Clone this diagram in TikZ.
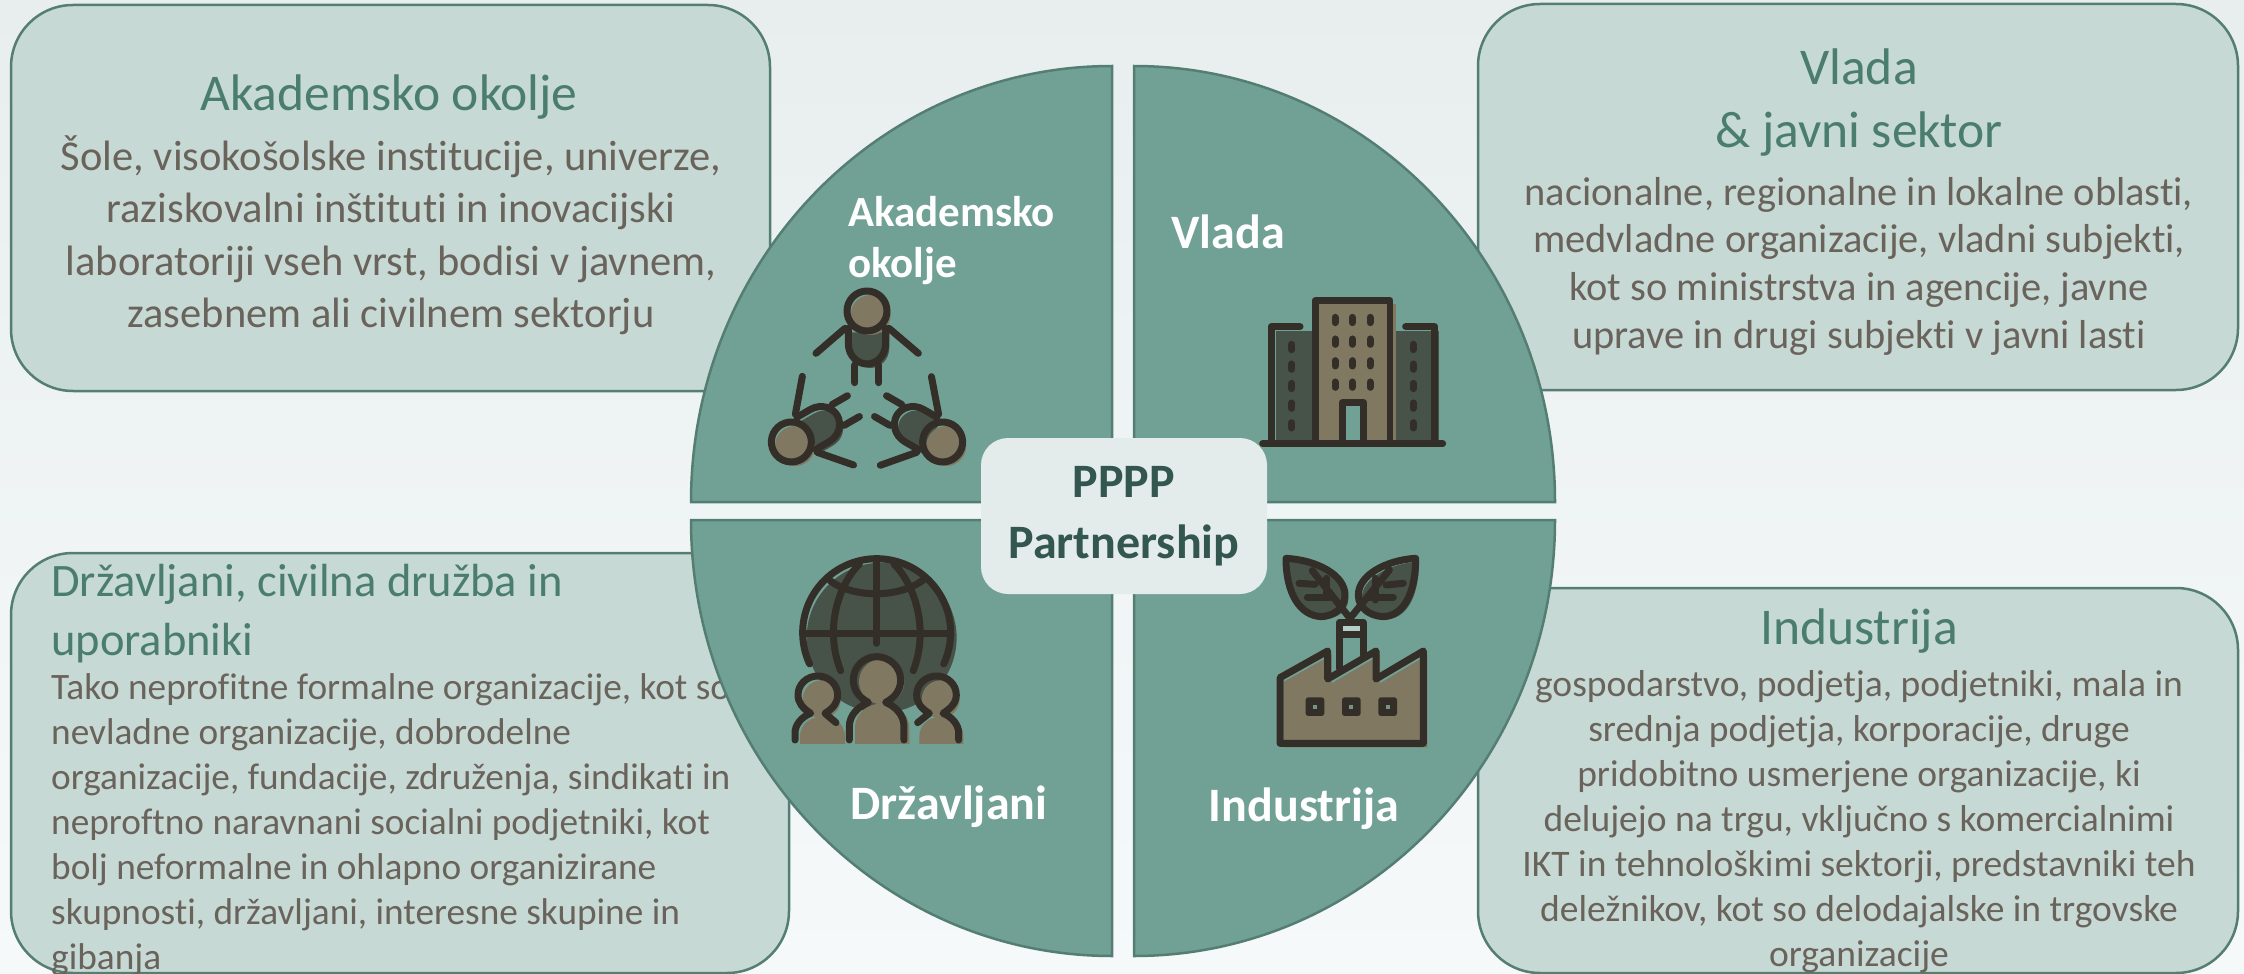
\documentclass[tikz,border=0pt]{standalone}
\usepackage{fontspec}
\setmainfont{Carlito}[Ligatures=CommonOff]
\definecolor{bgtop}{HTML}{E8EEEE}
\definecolor{bgbot}{HTML}{F6F9F9}
\definecolor{boxfill}{HTML}{C6D9D4}
\definecolor{edgec}{HTML}{557E72}
\definecolor{quad}{HTML}{71A094}
\definecolor{core}{HTML}{E3ECEB}
\definecolor{coretext}{HTML}{33564F}
\definecolor{titlec}{HTML}{4A7D6E}
\definecolor{bodyc}{HTML}{6A635C}
\definecolor{ink}{HTML}{342E29}
\definecolor{tan}{HTML}{807860}
\definecolor{darkf}{HTML}{475249}
\tikzset{
  panel/.style={draw=edgec,line width=2.5pt,fill=boxfill,rounded corners=62pt,inner sep=0pt},
  quadrant/.style={draw=edgec,line width=2.5pt,fill=quad,line join=miter},
  ttl/.style={text=titlec,font=\fontsize{51.5}{63}\selectfont,align=center,inner sep=0pt},
  txt/.style={text=bodyc,align=center,inner sep=0pt},
  lab/.style={text=white,font=\fontsize{43}{51.5}\selectfont\bfseries,align=left,inner sep=0pt},
  labbig/.style={text=white,font=\fontsize{48}{52}\selectfont\bfseries,inner sep=0pt},
  st/.style={draw=ink,line width=21*0.3333pt,line cap=round,line join=round},
  stm/.style={draw=ink,line width=21*0.3333pt,line cap=butt,line join=round}
}
\begin{document}
\begin{tikzpicture}[x=1pt,y=-1pt]
\useasboundingbox (0,0) rectangle (2244,974);
\shade[top color=bgtop,bottom color=bgbot] (0,0) rectangle (2244,974);
% panels
\path[panel] (11,5) rectangle (770,391);
\path[panel] (1478,4) rectangle (2238,390);
\path[panel] (11,553) rectangle (789,973);
\path[panel] (1478,588) rectangle (2238,973);
% panel texts
\node[ttl] (t1) at (389,97) {Akademsko okolje};
\node[txt,font=\fontsize{42.5}{52.5}\selectfont] (b1) at (391,235) {Šole, visokošolske institucije, univerze,\\raziskovalni inštituti in inovacijski\\laboratoriji vseh vrst, bodisi v javnem,\\zasebnem ali civilnem sektorju};
\node[ttl] (t2) at (1859,103) {Vlada\\\& javni sektor};
\node[txt,font=\fontsize{40.4}{47.7}\selectfont] (b2) at (1859,266) {nacionalne, regionalne in lokalne oblasti,\\medvladne organizacije, vladni subjekti,\\kot so ministrstva in agencije, javne\\uprave in drugi subjekti v javni lasti};
\node[ttl,align=left,anchor=north west,font=\fontsize{46.5}{59}\selectfont] (t3) at (51,564) {Državljani, civilna družba in\\uporabniki};
\node[txt,align=left,anchor=north west,font=\fontsize{37.3}{45}\selectfont] (b3) at (51,673) {Tako neprofitne formalne organizacije, kot so\\nevladne organizacije, dobrodelne\\organizacije, fundacije, združenja, sindikati in\\neproftno naravnani socialni podjetniki, kot\\bolj neformalne in ohlapno organizirane\\skupnosti, državljani, interesne skupine in\\gibanja};
\node[ttl] (t4) at (1859,631) {Industrija};
\node[txt,font=\fontsize{37.5}{45}\selectfont] (b4) at (1859,822) {gospodarstvo, podjetja, podjetniki, mala in\\srednja podjetja, korporacije, druge\\pridobitno usmerjene organizacije, ki\\delujejo na trgu, vključno s komercialnimi\\IKT in tehnološkimi sektorji, predstavniki teh\\deležnikov, kot so delodajalske in trgovske\\organizacije};
% quadrants
\draw[quadrant] (1112,502) -- (691,502) .. controls (691,261.2) and (879.5,66) .. (1112,66) -- cycle;
\draw[quadrant] (1134,502) -- (1555,502) .. controls (1555,261.2) and (1366.5,66) .. (1134,66) -- cycle;
\draw[quadrant] (1112,520) -- (691,520) .. controls (691,760.8) and (879.5,956) .. (1112,956) -- cycle;
\draw[quadrant] (1134,520) -- (1555,520) .. controls (1555,760.8) and (1366.5,956) .. (1134,956) -- cycle;
% labels
\node[lab,anchor=north west] (q1) at (848,196) {Akademsko\\okolje};
\node[labbig] (q2) at (1228,232) {Vlada};
\node[labbig] (q3) at (949,807) {Državljani};
\node[labbig] (q4) at (1304,809) {Industrija};
% centre
\node[fill=core,rounded corners=27pt,minimum width=286pt,minimum height=156pt,inner sep=0pt,text=coretext,font=\fontsize{48}{61}\selectfont\bfseries,align=center] (c) at (1124,516) {PPPP\\Partnership};
% icon: people
\begin{scope}[shift={(720,260)},x=0.3333pt,y=-0.3333pt]
\foreach \a in {0,120,240}{
 \begin{scope}[shift={(11,12)},rotate around={\a:(441,415)}]
  \fill[darkf] (385,205) -- (385,250) .. controls (385,290) and (415,312) .. (441,312) .. controls (467,312) and (497,290) .. (497,250) -- (497,205) -- cycle;
  \fill[tan] (441,153) circle[radius=60];
 \end{scope}
 \begin{scope}[rotate around={\a:(441,415)}]
  \draw[st] (441,153) circle[radius=60];
  \draw[st] (385,205) -- (385,250) .. controls (385,290) and (415,312) .. (441,312) .. controls (467,312) and (497,290) .. (497,250) -- (497,205);
  \draw[st] (375,205) -- (288,280);
  \draw[st] (507,205) -- (595,280);
  \draw[st] (405,315) -- (405,368);
  \draw[st] (477,315) -- (477,368);
 \end{scope}
}
\end{scope}
% icon: building
\begin{scope}[shift={(1240,280)},x=0.3333pt,y=-0.3333pt]
\fill[darkf] (107,152) rectangle (225,485);
\fill[darkf] (460,152) rectangle (596,485);
\fill[tan] (238,72) rectangle (468,485);
\fill[quad] (316,378) rectangle (360,480);
\draw[st] (225,485) -- (225,62) -- (450,62) -- (450,485);
\draw[st] (180,140) -- (93,140) -- (93,490);
\draw[st] (497,140) -- (585,140) -- (585,490);
\draw[st] (68,491) -- (608,491);
\draw[stm] (306,490) -- (306,368) -- (371,368) -- (371,490);
\foreach \wx in {285,337,390}\foreach \wy in {120,185,250,314}{
 \draw[st] (\wx,\wy-8) -- (\wx,\wy+8);}
\foreach \wx in {155,520}\foreach \wy in {201,260,318,377,436}{
 \draw[st] (\wx,\wy-8) -- (\wx,\wy+8);}
\end{scope}
% icon: globe and citizens
\begin{scope}[shift={(770,540)},x=0.3333pt,y=-0.3333pt]
\fill[darkf] (335,293) circle[radius=225];
\fill[tan] (335,425) circle[radius=68];
\fill[tan] (155,478) circle[radius=57];
\fill[tan] (512,478) circle[radius=57];
\fill[tan] (255,612) -- (255,565) .. controls (255,515) and (300,490) .. (336,490) .. controls (375,490) and (418,515) .. (418,565) -- (418,612) -- cycle;
\fill[tan] (90,612) -- (90,590) .. controls (90,550) and (125,530) .. (157,530) .. controls (190,530) and (225,550) .. (225,590) -- (225,612) -- cycle;
\fill[tan] (448,612) -- (448,590) .. controls (448,550) and (483,530) .. (514,530) .. controls (547,530) and (580,550) .. (580,590) -- (580,612) -- cycle;
\draw[st] plot[domain=205:-25,samples=70,smooth] ({320+222*cos(\x)},{278-222*sin(\x)});
\draw[stm] (105,280) -- (540,280);
\draw[st] (320,65) -- (320,310);
\draw[st] (268,72) .. controls (210,130) and (160,260) .. (212,392);
\draw[st] (372,72) .. controls (430,130) and (480,260) .. (430,392);
\draw[st] (180,122) .. controls (250,175) and (390,175) .. (462,118);
\draw[st] (238,600) -- (238,560) .. controls (238,525) and (265,500) .. (295,487) .. controls (262,470) and (250,445) .. (250,420) .. controls (250,380) and (282,350) .. (320,350) .. controls (358,350) and (392,380) .. (392,420) .. controls (392,445) and (380,470) .. (347,487) .. controls (377,500) and (402,525) .. (402,560) -- (402,600);
\draw[st] (75,600) -- (75,578) .. controls (75,555) and (95,530) .. (122,520) .. controls (98,505) and (84,488) .. (84,465) .. controls (84,432) and (112,408) .. (143,408) .. controls (175,408) and (203,432) .. (203,465) .. controls (203,488) and (190,505) .. (165,520) -- (198,548);
\draw[st] (566,600) -- (566,578) .. controls (566,555) and (546,530) .. (519,520) .. controls (543,505) and (559,488) .. (559,465) .. controls (559,432) and (531,408) .. (500,408) .. controls (468,408) and (440,432) .. (440,465) .. controls (440,488) and (453,505) .. (478,520) -- (443,548);
\end{scope}
% icon: factory with leaves
\begin{scope}[shift={(1250,540)},x=0.3333pt,y=-0.3333pt]
\fill[darkf] (118,65) .. controls (210,70) and (295,115) .. (295,175) .. controls (295,215) and (260,235) .. (225,237) .. controls (160,235) and (118,170) .. (118,65) -- cycle;
\fill[darkf] (507,65) .. controls (420,70) and (335,115) .. (335,175) .. controls (335,215) and (370,238) .. (410,238) .. controls (470,235) and (507,170) .. (507,65) -- cycle;
\fill[tan] (102,425) -- (245,345) -- (245,430) -- (390,345) -- (390,430) -- (532,345) -- (532,622) -- (102,622) -- cycle;
\fill[quad] (278,258) rectangle (330,370);
\fill[core!60!quad] (278,258) rectangle (330,275);
\draw[st] (268,385) -- (268,247) -- (340,247) -- (340,345);
\draw[stm] (268,285) -- (340,285);
\draw[st] (90,610) -- (90,413) -- (233,333) -- (233,417) -- (378,333) -- (378,417) -- (520,333) -- (520,610) -- cycle;
\foreach \wx in {195,304,413}{
 \fill[ink,rounded corners=8pt*0.3333] (\wx-28,472) rectangle (\wx+28,528);
 \fill[quad!70!tan] (\wx-6,494) rectangle (\wx+6,506);}
\draw[st] (108,55) .. controls (200,60) and (285,105) .. (285,165) .. controls (285,205) and (250,228) .. (215,230) .. controls (150,228) and (108,160) .. (108,55) -- cycle;
\draw[st] (497,55) .. controls (410,60) and (325,105) .. (325,165) .. controls (325,205) and (360,228) .. (400,230) .. controls (460,228) and (497,160) .. (497,55) -- cycle;
\draw[st] (300,235) -- (187,92);
\draw[st] (230,115) -- (230,170);
\draw[st] (147,130) -- (195,133);
\draw[st] (172,173) -- (240,173);
\draw[st] (300,235) -- (418,90);
\draw[st] (375,115) -- (375,180);
\draw[st] (460,130) -- (408,135);
\draw[st] (430,173) -- (355,173);
\end{scope}
\end{tikzpicture}
\end{document}
